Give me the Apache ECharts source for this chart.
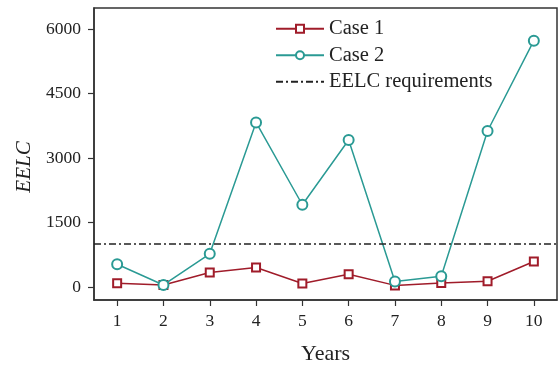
<!DOCTYPE html>
<html>
<head>
<meta charset="utf-8">
<script src="https://cdn.jsdelivr.net/npm/echarts@6/dist/echarts.min.js"></script>
<style>html,body{margin:0;padding:0;background:#fff;}#c{width:558px;height:366px;}</style>
</head>
<body>
<div id="c"></div>
<script>
const years = ['1','2','3','4','5','6','7','8','9','10'];
const case1 = [90, 50, 340, 455, 85, 300, 40, 95, 135, 595];
const case2 = [530, 50, 775, 3830, 1915, 3420, 130, 250, 3630, 5730];
const eelcRequirement = 1000;
const yTicks = [0, 1500, 3000, 4500, 6000];

const chart = echarts.init(document.getElementById('c'));
const font = 'Liberation Serif';
chart.setOption({
  animation: false,
  backgroundColor: '#ffffff',
  grid: {left: 94, right: 1, top: 8, bottom: 66, outerBoundsMode: 'none', containLabel: false,
    show: true, borderColor: '#333', borderWidth: 1.5, backgroundColor: 'transparent'},
  legend: {
    left: 270, top: 13, orient: 'vertical', itemGap: 5, itemWidth: 48, itemHeight: 10,
    textStyle: {fontFamily: font, fontSize: 20.5, color: '#222', lineHeight: 21.5},
    data: [
      {name: 'Case 1'},
      {name: 'Case 2'},
      {name: 'EELC requirements', itemStyle: {opacity: 0}}
    ]
  },
  xAxis: {
    type: 'category', data: years, boundaryGap: true,
    name: 'Years', nameLocation: 'middle', nameGap: 43,
    nameTextStyle: {fontFamily: font, fontSize: 22, color: '#222'},
    axisLine: {show: true, onZero: false, lineStyle: {color: '#333', width: 1.5}},
    axisTick: {show: true, alignWithLabel: true, length: 6, lineStyle: {color: '#333', width: 1.2}},
    axisLabel: {fontFamily: font, fontSize: 17.5, color: '#222', margin: 12},
    splitLine: {show: false}
  },
  yAxis: {
    type: 'value', min: -300, max: 6490, interval: 1500,
    name: 'EELC', nameLocation: 'middle', nameGap: 58, nameRotate: 90,
    nameTextStyle: {fontFamily: font, fontSize: 21, fontStyle: 'italic', color: '#222', padding: [0, 26, 0, 0]},
    axisLine: {show: true, lineStyle: {color: '#333', width: 1.5}},
    axisTick: {show: true, length: 6, lineStyle: {color: '#333', width: 1.2},
      customValues: yTicks},
    axisLabel: {fontFamily: font, fontSize: 17.5, color: '#222', margin: 13,
      customValues: yTicks, formatter: v => String(v)},
    splitLine: {show: false}
  },
  series: [
    {
      name: 'Case 1', type: 'line', data: case1,
      symbol: 'rect', symbolSize: 8, showAllSymbol: true,
      itemStyle: {color: '#fff', borderColor: '#a01c2a', borderWidth: 2},
      lineStyle: {color: '#a01c2a', width: 1.5}, z: 3
    },
    {
      name: 'Case 2', type: 'line', data: case2,
      symbol: 'circle', symbolSize: 10, showAllSymbol: true,
      itemStyle: {color: '#fff', borderColor: '#2a9a94', borderWidth: 2},
      lineStyle: {color: '#2a9a94', width: 1.5}, z: 4
    },
    {
      name: 'EELC requirements', type: 'line', data: [],
      symbol: 'none',
      itemStyle: {color: '#222'},
      lineStyle: {color: '#222', width: 1.5, type: [7, 3, 2, 3]},
      markLine: {
        silent: true, symbol: 'none', label: {show: false},
        lineStyle: {color: '#222', width: 1.5, type: [7, 3, 2, 3]},
        data: [{yAxis: eelcRequirement}]
      }
    }
  ]
});
</script>
</body>
</html>
